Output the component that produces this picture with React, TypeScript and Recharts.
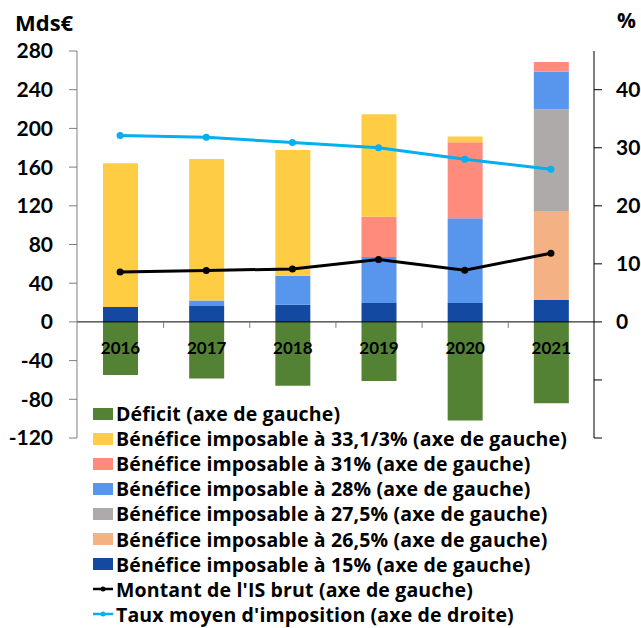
import React from "react"
import { ComposedChart, Bar, Line, XAxis, YAxis, ReferenceLine, LabelList, Legend } from "recharts"

const years = ["2016", "2017", "2018", "2019", "2020", "2021"]
const deficit = [-55, -58.5, -66, -61, -102, -84]
const rate15 = [15.5, 16.5, 17.6, 19.6, 19.6, 22.7]
const rate265 = [0, 0, 0, 0, 0, 92]
const rate275 = [0, 0, 0, 0, 0, 105]
const rate28 = [0, 5.5, 30, 47.5, 87.5, 39]
const rate31 = [0, 0, 0, 41.5, 78.5, 10]
const rate3313 = [148.5, 146.5, 130, 106, 6, 0]
const isBrut = [51.7, 53, 54.8, 64.4, 53.4, 71]
const tauxMoyen = [32.1, 31.8, 30.9, 30.0, 28.0, 26.3]

const leftTicks = [-120, -80, -40, 0, 40, 80, 120, 160, 200, 240, 280]
const rightTicks = [-20, -10, 0, 10, 20, 30, 40]

const data = years.map((year, i) => ({
  year,
  deficit: deficit[i],
  r15: rate15[i],
  r265: rate265[i],
  r275: rate275[i],
  r28: rate28[i],
  r31: rate31[i],
  r3313: rate3313[i],
  is: isBrut[i],
  taux: tauxMoyen[i],
}))

const FONT = "Lato, 'Noto Sans', sans-serif"
const LEGEND_FONT = "'Open Sans', 'Noto Sans', sans-serif"

const legendItems = [
  { name: "Déficit (axe de gauche)", color: "#548235", type: "rect" },
  { name: "Bénéfice imposable à 33,1/3% (axe de gauche)", color: "#FFCD44", type: "rect" },
  { name: "Bénéfice imposable à 31% (axe de gauche)", color: "#FF8B7C", type: "rect" },
  { name: "Bénéfice imposable à 28% (axe de gauche)", color: "#5895EC", type: "rect" },
  { name: "Bénéfice imposable à 27,5% (axe de gauche)", color: "#AEAAAA", type: "rect" },
  { name: "Bénéfice imposable à 26,5% (axe de gauche)", color: "#F4B183", type: "rect" },
  { name: "Bénéfice imposable à 15% (axe de gauche)", color: "#1349A0", type: "rect" },
  { name: "Montant de l'IS brut (axe de gauche)", color: "#000000", type: "line" },
  { name: "Taux moyen d'imposition (axe de droite)", color: "#00B0F0", type: "line" },
]

const PLOT_LEFT = 77
const PLOT_RIGHT = 594
const BAND = (PLOT_RIGHT - PLOT_LEFT) / years.length

function LegendBox() {
  return (
    <div style={{ fontFamily: LEGEND_FONT, fontWeight: 700, fontSize: 19.5, color: "#000", letterSpacing: 0.15 }}>
      {legendItems.map((item) => (
        <div key={item.name} style={{ display: "flex", alignItems: "center", height: 25.1, whiteSpace: "nowrap" }}>
          <svg width={23} height={14} style={{ flexShrink: 0 }}>
            {item.type === "rect" ? (
              <rect x={0} y={1} width={20} height={12} fill={item.color} />
            ) : (
              <g>
                <line x1={0} x2={20} y1={7} y2={7} stroke={item.color} strokeWidth={2.5} />
                <circle cx={10} cy={7} r={2.5} fill={item.color} />
              </g>
            )}
          </svg>
          <span>{item.name}</span>
        </div>
      ))}
    </div>
  )
}

function YearLabel(props: any) {
  const { x, y, width, height, value, index } = props
  const top = Math.min(y, y + height)
  const cx = x + width / 2
  return (
    <g>
      {index > 0 && (
        <line x1={cx - BAND / 2} x2={cx - BAND / 2} y1={top} y2={top + 6} stroke="#7f7f7f" strokeWidth={1} />
      )}
      <text x={cx} y={top + 32} textAnchor="middle" fontFamily={FONT} fontWeight={700} fontSize={17} fill="#000">
        {value}
      </text>
    </g>
  )
}

export default function App() {
  return (
    <div style={{ position: "absolute", left: 0, top: 0, width: 641, height: 628, background: "#fff" }}>
      <div style={{ position: "absolute", left: 15, top: 7, fontFamily: LEGEND_FONT, fontWeight: 700, fontSize: 22 }}>Mds€</div>
      <div style={{ position: "absolute", left: 617, top: 6, fontFamily: LEGEND_FONT, fontWeight: 700, fontSize: 21 }}>%</div>
      <ComposedChart
        width={641}
        height={628}
        data={data}
        stackOffset="sign"
        barSize={35}
        margin={{ top: 51, right: 0, left: 0, bottom: 190 }}
      >
        <XAxis dataKey="year" hide />
        <YAxis
          yAxisId="left"
          width={77}
          domain={[-120, 280]}
          ticks={leftTicks}
          interval={0}
          tickSize={8}
          tickMargin={16}
          stroke="#7f7f7f"
          tick={{ fill: "#000", fontFamily: FONT, fontWeight: 700, fontSize: 21 }}
          allowDataOverflow
        />
        <YAxis
          yAxisId="right"
          orientation="right"
          width={47}
          domain={[-20, 46.667]}
          ticks={rightTicks}
          interval={0}
          tickSize={8}
          tickMargin={14}
          stroke="#000"
          tickFormatter={(v: number) => (v < 0 ? "" : String(v))}
          tick={{ fill: "#000", fontFamily: FONT, fontWeight: 700, fontSize: 21, textAnchor: "start" }}
          allowDataOverflow
        />
        <Bar yAxisId="left" dataKey="deficit" stackId="s" fill="#548235" isAnimationActive={false}>
          <LabelList dataKey="year" content={<YearLabel />} />
        </Bar>
        <Bar yAxisId="left" dataKey="r15" stackId="s" fill="#1349A0" isAnimationActive={false} />
        <Bar yAxisId="left" dataKey="r265" stackId="s" fill="#F4B183" isAnimationActive={false} />
        <Bar yAxisId="left" dataKey="r275" stackId="s" fill="#AEAAAA" isAnimationActive={false} />
        <Bar yAxisId="left" dataKey="r28" stackId="s" fill="#5895EC" isAnimationActive={false} />
        <Bar yAxisId="left" dataKey="r31" stackId="s" fill="#FF8B7C" isAnimationActive={false} />
        <Bar yAxisId="left" dataKey="r3313" stackId="s" fill="#FFCD44" isAnimationActive={false} />
        <ReferenceLine yAxisId="left" y={0} stroke="#000" strokeWidth={1} />
        <Line
          yAxisId="left"
          dataKey="is"
          stroke="#000"
          strokeWidth={3}
          dot={{ r: 3.5, fill: "#000", stroke: "#000", strokeWidth: 0 }}
          isAnimationActive={false}
        />
        <Line
          yAxisId="right"
          dataKey="taux"
          stroke="#00B0F0"
          strokeWidth={3}
          dot={{ r: 3.5, fill: "#00B0F0", stroke: "#00B0F0", strokeWidth: 0 }}
          isAnimationActive={false}
        />
        <Legend
          layout="vertical"
          align="center"
          verticalAlign="middle"
          content={<LegendBox />}
          wrapperStyle={{ position: "absolute", left: 93, top: 401, width: 545, height: 230 }}
        />
      </ComposedChart>
    </div>
  )
}
